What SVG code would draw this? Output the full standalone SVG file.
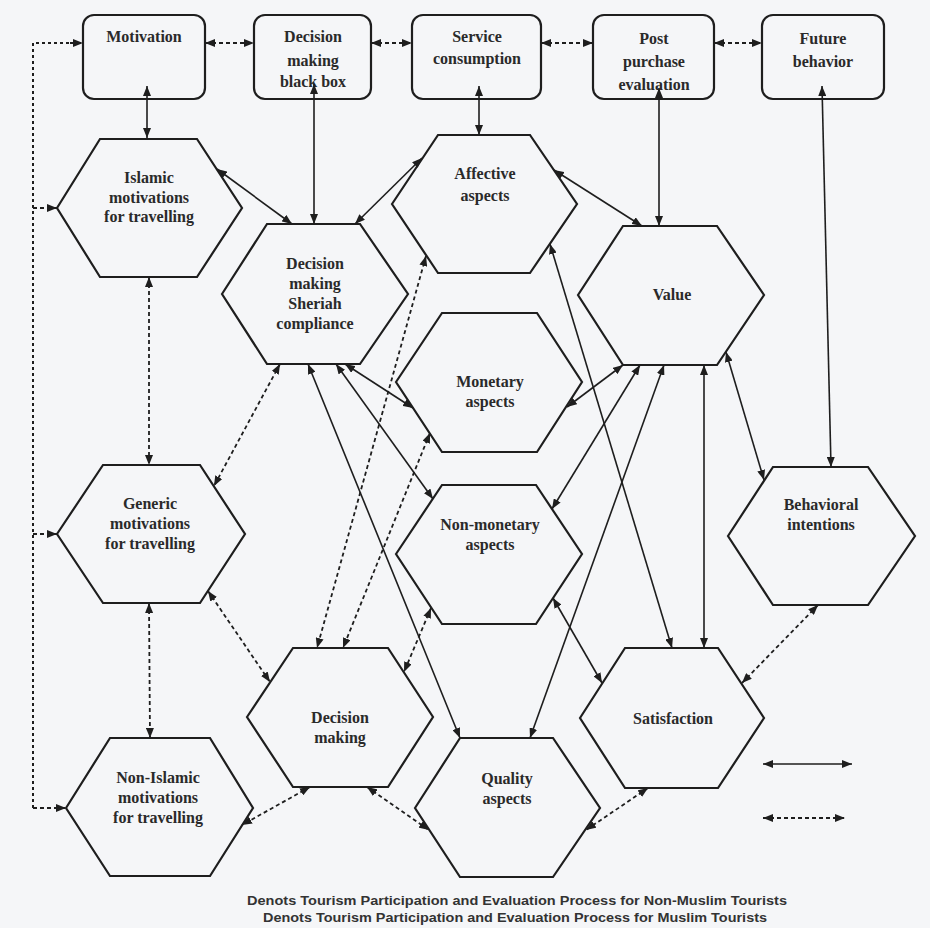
<svg xmlns="http://www.w3.org/2000/svg" width="930" height="928" viewBox="0 0 930 928">
<style>
.bg{fill:#f5f6f8}
.box{fill:#f5f6f8;stroke:#1e1e1e;stroke-width:2.2}
.hex{fill:#f5f6f8;stroke:#1e1e1e;stroke-width:2.2;stroke-linejoin:miter}
.t{font-family:"Liberation Serif","Times New Roman",serif;font-weight:bold;font-size:16px;fill:#2a2a2a;text-anchor:middle;dominant-baseline:central}
.cap{font-family:"Liberation Sans",Arial,sans-serif;font-weight:bold;font-size:13.5px;fill:#333;text-anchor:start}
.s{fill:none;stroke:#1e1e1e;stroke-width:1.6;marker-start:url(#ah);marker-end:url(#ah)}
.d{fill:none;stroke:#1e1e1e;stroke-width:1.8;stroke-dasharray:4 3;marker-start:url(#ah);marker-end:url(#ah)}
.d1{fill:none;stroke:#1e1e1e;stroke-width:1.8;stroke-dasharray:4 3;marker-end:url(#ah)}
.dl{fill:none;stroke:#1e1e1e;stroke-width:2;stroke-dasharray:3 3}
</style>
<defs>
<marker id="ah" markerUnits="userSpaceOnUse" markerWidth="10" markerHeight="8" refX="10" refY="4" orient="auto-start-reverse" viewBox="0 0 10 8">
<path d="M0,0 L10,4 L0,8 z" fill="#1e1e1e"/>
</marker>
</defs>
<rect class="bg" x="0" y="0" width="930" height="928"/>

<g id="motivation"><rect class="box" x="83" y="15" width="122" height="84" rx="11"/><text class="t" x="144" y="36">Motivation</text></g>
<g id="decision-black-box"><rect class="box" x="254" y="15" width="117" height="84" rx="11"/><text class="t" x="313" y="36">Decision</text><text class="t" x="313" y="60">making</text><text class="t" x="313" y="81">black box</text></g>
<g id="service-consumption"><rect class="box" x="412" y="15" width="129" height="84" rx="11"/><text class="t" x="477" y="36">Service</text><text class="t" x="477" y="58">consumption</text></g>
<g id="post-purchase"><rect class="box" x="593" y="15" width="121" height="84" rx="11"/><text class="t" x="654" y="38">Post</text><text class="t" x="654" y="61">purchase</text><text class="t" x="654" y="84">evaluation</text></g>
<g id="future-behavior"><rect class="box" x="762" y="15" width="122" height="84" rx="11"/><text class="t" x="823" y="38">Future</text><text class="t" x="823" y="61">behavior</text></g>

<g id="islamic"><polygon class="hex" points="57,208 100,139 197,139 242,208 197,277 100,277"/><text class="t" x="149" y="177">Islamic</text><text class="t" x="149" y="197">motivations</text><text class="t" x="149" y="216">for travelling</text></g>
<g id="sheriah"><polygon class="hex" points="222,294 267,224 360,224 408,294 360,364 267,364"/><text class="t" x="315" y="263">Decision</text><text class="t" x="315" y="283">making</text><text class="t" x="315" y="303">Sheriah</text><text class="t" x="315" y="323">compliance</text></g>
<g id="affective"><polygon class="hex" points="392,204 438,135 530,135 577,204 530,273 438,273"/><text class="t" x="485" y="173">Affective</text><text class="t" x="485" y="195">aspects</text></g>
<g id="value"><polygon class="hex" points="578,295 623,226 717,226 764,295 717,365 623,365"/><text class="t" x="672" y="294">Value</text></g>
<g id="monetary"><polygon class="hex" points="396,382 442,313 537,313 582,382 537,452 442,452"/><text class="t" x="490" y="381">Monetary</text><text class="t" x="490" y="401">aspects</text></g>
<g id="non-monetary"><polygon class="hex" points="396,554 442,485 536,485 582,554 536,624 442,624"/><text class="t" x="490" y="524">Non-monetary</text><text class="t" x="490" y="544">aspects</text></g>
<g id="generic"><polygon class="hex" points="57,534 103,465 200,465 245,534 200,603 103,603"/><text class="t" x="150" y="503">Generic</text><text class="t" x="150" y="523">motivations</text><text class="t" x="150" y="543">for travelling</text></g>
<g id="behavioral"><polygon class="hex" points="728,536 773,467 868,467 915,536 868,605 773,605"/><text class="t" x="821" y="504">Behavioral</text><text class="t" x="821" y="524">intentions</text></g>
<g id="decision-making"><polygon class="hex" points="247,717 293,648 388,648 433,717 388,787 293,787"/><text class="t" x="340" y="717">Decision</text><text class="t" x="340" y="737">making</text></g>
<g id="satisfaction"><polygon class="hex" points="580,718 625,648 718,648 764,718 718,788 625,788"/><text class="t" x="673" y="718">Satisfaction</text></g>
<g id="non-islamic"><polygon class="hex" points="66,808 110,738 210,738 253,808 210,876 110,876"/><text class="t" x="158" y="777">Non-Islamic</text><text class="t" x="158" y="797">motivations</text><text class="t" x="158" y="817">for travelling</text></g>
<g id="quality"><polygon class="hex" points="415,808 460,738 553,738 600,808 553,877 460,877"/><text class="t" x="507" y="778">Quality</text><text class="t" x="507" y="798">aspects</text></g>

<g id="connectors">
<!-- solid -->
<line class="s" x1="147" y1="86" x2="147" y2="138"/>
<line class="s" x1="314" y1="84" x2="314" y2="224"/>
<line class="s" x1="479" y1="86" x2="479" y2="135"/>
<line class="s" x1="659" y1="88" x2="659" y2="226"/>
<line class="s" x1="822" y1="86" x2="831" y2="467"/>
<line class="s" x1="217" y1="169" x2="292" y2="224"/>
<line class="s" x1="355" y1="224" x2="422" y2="158"/>
<line class="s" x1="554" y1="170" x2="642" y2="226"/>
<line class="s" x1="550" y1="244" x2="672" y2="648"/>
<line class="s" x1="623" y1="365" x2="567" y2="407"/>
<line class="s" x1="640" y1="365" x2="552" y2="509"/>
<line class="s" x1="664" y1="365" x2="530" y2="738"/>
<line class="s" x1="704" y1="365" x2="704" y2="648"/>
<line class="s" x1="726" y1="352" x2="764" y2="480"/>
<line class="s" x1="345" y1="364" x2="413" y2="408"/>
<line class="s" x1="336" y1="364" x2="433" y2="499"/>
<line class="s" x1="308" y1="364" x2="460" y2="738"/>
<line class="s" x1="553" y1="598" x2="602" y2="683"/>
<!-- dashed -->
<path class="dl" d="M33,808 L33,43 L76,43"/>
<line class="d1" x1="70" y1="43" x2="83" y2="43"/>
<line class="d1" x1="33" y1="208" x2="57" y2="208"/>
<line class="d1" x1="33" y1="534" x2="57" y2="534"/>
<line class="d1" x1="33" y1="808" x2="66" y2="808"/>
<line class="d" x1="205" y1="43" x2="254" y2="43"/>
<line class="d" x1="371" y1="43" x2="412" y2="43"/>
<line class="d" x1="541" y1="43" x2="593" y2="43"/>
<line class="d" x1="714" y1="43" x2="762" y2="43"/>
<line class="d" x1="149" y1="277" x2="149" y2="465"/>
<line class="d" x1="149" y1="603" x2="150" y2="738"/>
<line class="d" x1="280" y1="364" x2="214" y2="486"/>
<line class="d" x1="426" y1="256" x2="317" y2="648"/>
<line class="d" x1="430" y1="433" x2="343" y2="648"/>
<line class="d" x1="431" y1="608" x2="404" y2="672"/>
<line class="d" x1="208" y1="591" x2="270" y2="682"/>
<line class="d" x1="310" y1="787" x2="242" y2="825"/>
<line class="d" x1="367" y1="787" x2="429" y2="830"/>
<line class="d" x1="648" y1="788" x2="586" y2="830"/>
<line class="d" x1="818" y1="605" x2="742" y2="683"/>
<!-- legend -->
<line class="s" x1="763" y1="764" x2="852" y2="764"/>
<line class="d" x1="763" y1="818" x2="845" y2="818"/>
</g>

<g id="caption">
<text class="cap" x="247" y="905" textLength="540" lengthAdjust="spacingAndGlyphs">Denots Tourism Participation and Evaluation Process for Non-Muslim Tourists</text>
<text class="cap" x="263" y="922" textLength="504" lengthAdjust="spacingAndGlyphs">Denots Tourism Participation and Evaluation Process for Muslim Tourists</text>
</g>
</svg>
